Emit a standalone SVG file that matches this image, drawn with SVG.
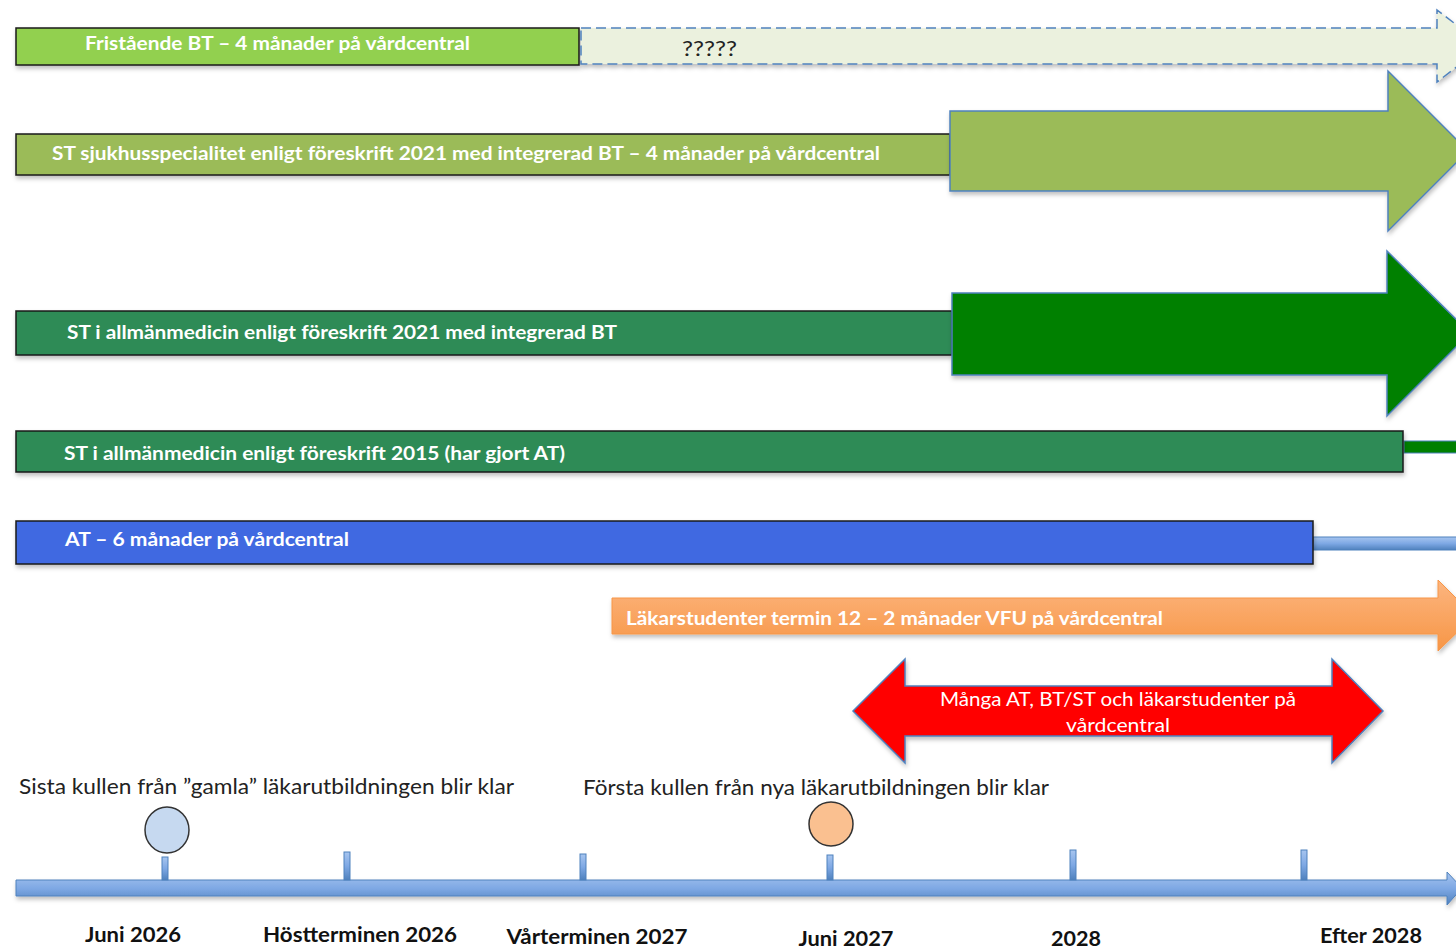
<svg xmlns="http://www.w3.org/2000/svg" width="1456" height="950" viewBox="0 0 1456 950">
<defs>
<style>
.bar{stroke:#1a1a1a;stroke-width:1.5}
.lbl{font-family:Lato,"Liberation Sans",sans-serif;font-weight:bold;font-size:19px;fill:#fff}
.big{stroke:#4f81bd;stroke-width:1.5}
.note{font-family:Lato,"Liberation Sans",sans-serif;font-size:22px;fill:#222}
.date{font-family:Lato,"Liberation Sans",sans-serif;font-weight:bold;font-size:21px;fill:#111;text-anchor:middle}
.tick{fill:url(#blueG);stroke:#4f81bd;stroke-width:1}
</style>
<filter id="sh" x="-5%" y="-20%" width="110%" height="160%">
<feDropShadow dx="1" dy="3" stdDeviation="2" flood-color="#000" flood-opacity="0.25"/>
</filter>
<linearGradient id="blueG" x1="0" y1="0" x2="0" y2="1">
<stop offset="0" stop-color="#a7c5ef"/>
<stop offset="0.5" stop-color="#7ea8e4"/>
<stop offset="1" stop-color="#4f81bd"/>
</linearGradient>
<linearGradient id="orangeG" x1="0" y1="0" x2="0" y2="1">
<stop offset="0" stop-color="#fcb57f"/>
<stop offset="1" stop-color="#f79646"/>
</linearGradient>
</defs>

<g id="connectors">
<!-- thin continuation bars -->
<rect x="1404" y="441" width="56" height="12" fill="#008000" stroke="#4f81bd" stroke-width="1"/>
<rect x="1313" y="537" width="147" height="13" fill="url(#blueG)" stroke="#4f81bd" stroke-width="1"/>
</g>

<g id="node-fristaende">
<rect class="bar" x="16" y="28" width="563" height="37" fill="#92d050" filter="url(#sh)"/>
<text class="lbl" x="85" y="50" textLength="385" lengthAdjust="spacingAndGlyphs">Fristående BT – 4 månader på vårdcentral</text>
</g>

<g id="node-unknown">
<path d="M581,28 H1437 V10 L1484,46 L1437,82 V64 H581 Z" fill="#ebf1de" stroke="#4f81bd" stroke-width="1.5" stroke-dasharray="10,5" filter="url(#sh)"/>
<text x="682" y="56" font-family="Lato,'Liberation Sans',sans-serif" font-size="21" fill="#222" textLength="55" lengthAdjust="spacingAndGlyphs">?????</text>
</g>

<g id="node-st-sjukhus">
<rect class="bar" x="16" y="134" width="934" height="41" fill="#9bbb59" filter="url(#sh)"/>
<path class="big" d="M950,111 H1388 V71 L1468,151 L1388,231 V191 H950 Z" fill="#9bbb59" filter="url(#sh)"/>
<text class="lbl" x="52" y="160" textLength="828" lengthAdjust="spacingAndGlyphs">ST sjukhusspecialitet enligt föreskrift 2021 med integrerad BT – 4 månader på vårdcentral</text>
</g>

<g id="node-st-allm-2021">
<rect class="bar" x="16" y="311" width="936" height="44" fill="#2e8b57" filter="url(#sh)"/>
<path class="big" d="M952,293 H1387 V251 L1470,333 L1387,416 V375 H952 Z" fill="#008000" filter="url(#sh)"/>
<text class="lbl" x="67" y="339" textLength="550" lengthAdjust="spacingAndGlyphs">ST i allmänmedicin enligt föreskrift 2021 med integrerad BT</text>
</g>

<g id="node-st-allm-2015">
<rect class="bar" x="16" y="431" width="1387" height="41" fill="#2e8b57" filter="url(#sh)"/>
<text class="lbl" x="64" y="460" textLength="501" lengthAdjust="spacingAndGlyphs">ST i allmänmedicin enligt föreskrift 2015 (har gjort AT)</text>
</g>

<g id="node-at">
<rect class="bar" x="16" y="521" width="1297" height="43" fill="#4169e1" filter="url(#sh)"/>
<text class="lbl" x="65" y="546" textLength="284" lengthAdjust="spacingAndGlyphs">AT – 6 månader på vårdcentral</text>
</g>

<g id="node-lakarstudenter">
<path d="M612,598 H1438 V580 L1474,616 L1438,651 V634 H612 Z" fill="url(#orangeG)" stroke="#f79646" stroke-width="1" filter="url(#sh)"/>
<text class="lbl" x="626" y="625" textLength="537" lengthAdjust="spacingAndGlyphs">Läkarstudenter termin 12 – 2 månader VFU på vårdcentral</text>
</g>

<g id="node-manga">
<path d="M853,711 L905,659 V686 H1332 V659 L1383,711 L1332,763 V736 H905 V763 Z" fill="#ff0000" stroke="#4f81bd" stroke-width="1.5" filter="url(#sh)"/>
<text x="1118" y="706" text-anchor="middle" font-family="Lato,'Liberation Sans',sans-serif" font-size="20" fill="#fff" textLength="356" lengthAdjust="spacingAndGlyphs">Många AT, BT/ST och läkarstudenter på</text>
<text x="1118" y="732" text-anchor="middle" font-family="Lato,'Liberation Sans',sans-serif" font-size="20" fill="#fff" textLength="104" lengthAdjust="spacingAndGlyphs">vårdcentral</text>
</g>

<g id="node-timeline">
<path d="M16,880 H1447 V872 L1462,888 L1447,905 V896 H16 Z" fill="url(#blueG)" stroke="#4f81bd" stroke-width="1" filter="url(#sh)"/>
<rect class="tick" x="162" y="857" width="6" height="23"/>
<rect class="tick" x="344" y="852" width="6" height="28"/>
<rect class="tick" x="580" y="854" width="6" height="26"/>
<rect class="tick" x="827" y="855" width="6" height="25"/>
<rect class="tick" x="1070" y="850" width="6" height="30"/>
<rect class="tick" x="1301" y="850" width="6" height="30"/>
<text class="date" x="133" y="942" textLength="96" lengthAdjust="spacingAndGlyphs">Juni 2026</text>
<text class="date" x="360" y="942" textLength="194" lengthAdjust="spacingAndGlyphs">Höstterminen 2026</text>
<text class="date" x="597" y="944" textLength="181" lengthAdjust="spacingAndGlyphs">Vårterminen 2027</text>
<text class="date" x="846" y="946" textLength="95" lengthAdjust="spacingAndGlyphs">Juni 2027</text>
<text class="date" x="1076" y="946" textLength="50" lengthAdjust="spacingAndGlyphs">2028</text>
<text class="date" x="1371" y="943" textLength="102" lengthAdjust="spacingAndGlyphs">Efter 2028</text>
</g>

<g id="node-sista">
<text class="note" x="19" y="794" textLength="495" lengthAdjust="spacingAndGlyphs">Sista kullen från ”gamla” läkarutbildningen blir klar</text>
<ellipse cx="167" cy="830" rx="22" ry="23" fill="#c6d9f0" stroke="#333" stroke-width="1.5"/>
</g>

<g id="node-forsta">
<text class="note" x="583" y="795" textLength="466" lengthAdjust="spacingAndGlyphs">Första kullen från nya läkarutbildningen blir klar</text>
<ellipse cx="831" cy="824" rx="22" ry="22" fill="#fac090" stroke="#333" stroke-width="1.5"/>
</g>
</svg>
